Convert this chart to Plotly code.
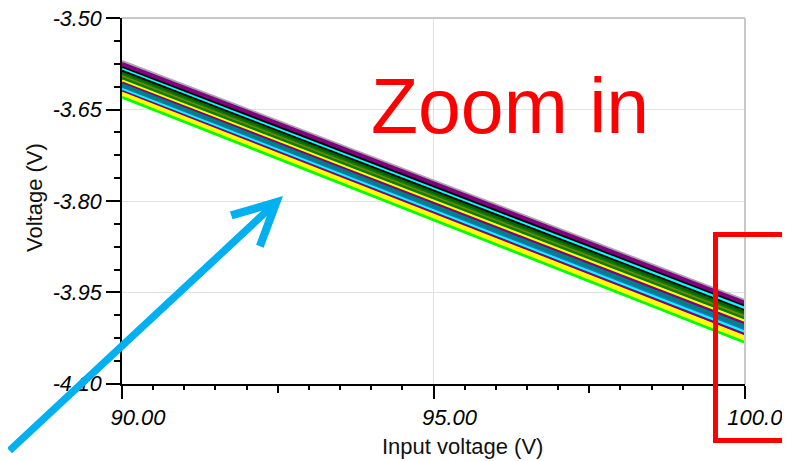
import plotly.graph_objects as go

input_voltage = [90.0, 100.0]

series_names = [f"Run {i+1}" for i in range(20)]
series_colors = [
    "#a8a8a8", "#800080", "#800080", "#000000", "#00ffff",
    "#000000", "#006400", "#008000", "#808000", "#008000",
    "#ffff00", "#800080", "#008080", "#008080", "#1e6fd0",
    "#00ffff", "#800080", "#ffff00", "#ffff00", "#00ff00",
]
start_values = [
    -3.571, -3.574, -3.577, -3.581, -3.584,
    -3.587, -3.590, -3.593, -3.596, -3.599,
    -3.603, -3.606, -3.609, -3.612, -3.615,
    -3.617, -3.620, -3.623, -3.626, -3.630,
]
end_values = [
    -3.963, -3.966, -3.969, -3.973, -3.976,
    -3.980, -3.983, -3.987, -3.990, -3.993,
    -3.997, -4.001, -4.005, -4.008, -4.012,
    -4.015, -4.019, -4.023, -4.027, -4.032,
]

y_ticks = [-4.10, -3.95, -3.80, -3.65, -3.50]
x_ticks = [90.0, 95.0, 100.0]
x_mid_ticks = [92.5, 97.5]

# the page body has an 8px margin; work in window pixels and convert
OFF = 8
W, H = 790 - OFF, 461 - OFF
L, R, T, B = 122 - OFF, 45, 18 - OFF, 77
pw, ph = W - L - R, H - T - B

def px(x):
    return (x - OFF - L) / pw

def py(y):
    return (H - B - (y - OFF)) / ph

fig = go.Figure()
for name, color, y0, y1 in zip(series_names, series_colors, start_values, end_values):
    fig.add_trace(go.Scatter(
        x=input_voltage, y=[y0, y1], mode="lines", name=name,
        line=dict(color=color, width=2.8), showlegend=False,
    ))
# carrier trace for the secondary tick axis
fig.add_trace(go.Scatter(x=[None], y=[None], xaxis="x2", yaxis="y",
                         showlegend=False, hoverinfo="skip"))

font_family = "Liberation Sans, Arial, sans-serif"

fig.update_layout(
    width=W, height=H,
    margin=dict(l=L, r=R, t=T, b=B, autoexpand=False),
    paper_bgcolor="white", plot_bgcolor="white",
    xaxis=dict(
        range=[90, 100.0001], tickvals=x_ticks, ticktext=[f"{v:.2f}" for v in x_ticks],
        showgrid=True, gridcolor="#e2e2e2", gridwidth=1,
        showline=True, linecolor="black", linewidth=2,
        ticks="outside", ticklen=13, tickwidth=1.5, tickcolor="black",
        minor=dict(dtick=0.5, tick0=90, ticks="outside", ticklen=4, tickwidth=1.5,
                   tickcolor="black", showgrid=False),
        tickfont=dict(family=font_family, size=22, color="#000000", style="italic"),
        ticklabeloverflow="allow", ticklabelshift=16,
        zeroline=False, automargin=False,
    ),
    xaxis2=dict(
        range=[90, 100.0001], overlaying="x", side="bottom", anchor="y",
        tickvals=x_mid_ticks, showticklabels=False,
        ticks="outside", ticklen=8, tickwidth=1.5, tickcolor="black",
        showgrid=False, showline=False, zeroline=False, automargin=False,
    ),
    yaxis=dict(
        range=[-4.1001, -3.4999], tickvals=y_ticks, ticktext=[f"{v:.2f}" for v in y_ticks],
        showgrid=True, gridcolor="#e2e2e2", gridwidth=1,
        showline=True, linecolor="black", linewidth=2,
        ticks="outside", ticklen=14, tickwidth=1.5, tickcolor="black",
        minor=dict(dtick=0.0375, tick0=-4.10, ticks="outside", ticklen=6, tickwidth=1.5,
                   tickcolor="black", showgrid=False),
        tickfont=dict(family=font_family, size=21.5, color="#000000", style="italic"),
        ticklabeloverflow="allow",
        zeroline=False, automargin=False,
    ),
)

# light grey top/right border
fig.add_shape(type="line", xref="paper", yref="paper", x0=0, x1=1, y0=1, y1=1,
              line=dict(color="#c8c8c8", width=2))
fig.add_shape(type="line", xref="paper", yref="paper", x0=1, x1=1, y0=0, y1=1,
              line=dict(color="#c8c8c8", width=2))

# axis titles
fig.add_annotation(text="Input voltage (V)", xref="paper", yref="paper",
                   x=px(462), y=py(446), showarrow=False, xanchor="center", yanchor="middle",
                   font=dict(family=font_family, size=22, color="#111111"))
fig.add_annotation(text="Voltage (V)", xref="paper", yref="paper",
                   x=px(34), y=py(198), showarrow=False, xanchor="center", yanchor="middle",
                   textangle=-90, font=dict(family=font_family, size=22, color="#111111"))

# "Zoom in" label
fig.add_annotation(text="Zoom in", xref="paper", yref="paper",
                   x=px(510), y=py(106), showarrow=False, xanchor="center", yanchor="middle",
                   font=dict(family=font_family, size=77, color="#ff0000"))

# red zoom rectangle
fig.add_shape(type="rect", xref="paper", yref="paper",
              x0=px(715.5), x1=px(805), y0=py(440.5), y1=py(234.5),
              line=dict(color="#ff0000", width=5), fillcolor="rgba(0,0,0,0)")

# cyan arrow (tip at window pixel 283,196; tail near the bottom-left corner)
fig.add_annotation(x=px(283), y=py(196), xref="paper", yref="paper",
                   ax=0 - 283, ay=452 - 196, axref="pixel", ayref="pixel",
                   text="", showarrow=True, arrowhead=5, arrowsize=1.1,
                   arrowwidth=7.5, arrowcolor="#00b0f0")

fig.write_html("out.html")
